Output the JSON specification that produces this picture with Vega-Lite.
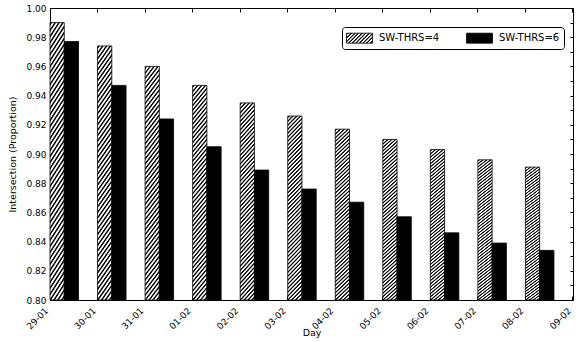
{
  "$schema": "https://vega.github.io/schema/vega-lite/v6.json",
  "width": 523,
  "height": 292,
  "autosize": {"type": "none"},
  "padding": {"left": 50, "top": 8, "right": 7, "bottom": 42},
  "background": "#ffffff",
  "config": {
    "view": {"stroke": "#000000", "strokeWidth": 1},
    "axis": {
      "domain": false, "grid": false, "tickColor": "#000000", "tickWidth": 1,
      "labelColor": "#000000", "titleColor": "#000000",
      "labelFont": "DejaVu Sans", "titleFont": "DejaVu Sans",
      "labelFontSize": 9, "titleFontSize": 9.5, "titleFontWeight": "normal"
    }
  },
  "data": {
    "values": [
      {"day": "29-01", "series": "SW-THRS=4", "value": 0.990},
      {"day": "30-01", "series": "SW-THRS=4", "value": 0.974},
      {"day": "31-01", "series": "SW-THRS=4", "value": 0.960},
      {"day": "01-02", "series": "SW-THRS=4", "value": 0.947},
      {"day": "02-02", "series": "SW-THRS=4", "value": 0.935},
      {"day": "03-02", "series": "SW-THRS=4", "value": 0.926},
      {"day": "04-02", "series": "SW-THRS=4", "value": 0.917},
      {"day": "05-02", "series": "SW-THRS=4", "value": 0.910},
      {"day": "06-02", "series": "SW-THRS=4", "value": 0.903},
      {"day": "07-02", "series": "SW-THRS=4", "value": 0.896},
      {"day": "08-02", "series": "SW-THRS=4", "value": 0.891},
      {"day": "29-01", "series": "SW-THRS=6", "value": 0.977},
      {"day": "30-01", "series": "SW-THRS=6", "value": 0.947},
      {"day": "31-01", "series": "SW-THRS=6", "value": 0.924},
      {"day": "01-02", "series": "SW-THRS=6", "value": 0.905},
      {"day": "02-02", "series": "SW-THRS=6", "value": 0.889},
      {"day": "03-02", "series": "SW-THRS=6", "value": 0.876},
      {"day": "04-02", "series": "SW-THRS=6", "value": 0.867},
      {"day": "05-02", "series": "SW-THRS=6", "value": 0.857},
      {"day": "06-02", "series": "SW-THRS=6", "value": 0.846},
      {"day": "07-02", "series": "SW-THRS=6", "value": 0.839},
      {"day": "08-02", "series": "SW-THRS=6", "value": 0.834}
    ]
  },
  "layer": [
    {
      "transform": [{"filter": "datum.series === 'SW-THRS=4'"}],
      "mark": {
        "type": "bar", "stroke": "#000000", "strokeWidth": 0.8,
        "fill": {"gradient": "linear", "x1": 0, "y1": 0, "x2": 0.08585, "y2": 1.0731, "stops": [
          {"offset":0,"color":"#fff"},{"offset":0.005,"color":"#000"},{"offset":0.009,"color":"#000"},{"offset":0.014,"color":"#fff"},
          {"offset":0.02,"color":"#fff"},{"offset":0.025,"color":"#000"},{"offset":0.029,"color":"#000"},{"offset":0.034,"color":"#fff"},
          {"offset":0.04,"color":"#fff"},{"offset":0.045,"color":"#000"},{"offset":0.049,"color":"#000"},{"offset":0.054,"color":"#fff"},
          {"offset":0.06,"color":"#fff"},{"offset":0.065,"color":"#000"},{"offset":0.069,"color":"#000"},{"offset":0.074,"color":"#fff"},
          {"offset":0.08,"color":"#fff"},{"offset":0.085,"color":"#000"},{"offset":0.089,"color":"#000"},{"offset":0.094,"color":"#fff"},
          {"offset":0.1,"color":"#fff"},{"offset":0.105,"color":"#000"},{"offset":0.109,"color":"#000"},{"offset":0.114,"color":"#fff"},
          {"offset":0.12,"color":"#fff"},{"offset":0.125,"color":"#000"},{"offset":0.129,"color":"#000"},{"offset":0.134,"color":"#fff"},
          {"offset":0.14,"color":"#fff"},{"offset":0.145,"color":"#000"},{"offset":0.149,"color":"#000"},{"offset":0.154,"color":"#fff"},
          {"offset":0.16,"color":"#fff"},{"offset":0.165,"color":"#000"},{"offset":0.169,"color":"#000"},{"offset":0.174,"color":"#fff"},
          {"offset":0.18,"color":"#fff"},{"offset":0.185,"color":"#000"},{"offset":0.189,"color":"#000"},{"offset":0.194,"color":"#fff"},
          {"offset":0.2,"color":"#fff"},{"offset":0.205,"color":"#000"},{"offset":0.209,"color":"#000"},{"offset":0.214,"color":"#fff"},
          {"offset":0.22,"color":"#fff"},{"offset":0.225,"color":"#000"},{"offset":0.229,"color":"#000"},{"offset":0.234,"color":"#fff"},
          {"offset":0.24,"color":"#fff"},{"offset":0.245,"color":"#000"},{"offset":0.249,"color":"#000"},{"offset":0.254,"color":"#fff"},
          {"offset":0.26,"color":"#fff"},{"offset":0.265,"color":"#000"},{"offset":0.269,"color":"#000"},{"offset":0.274,"color":"#fff"},
          {"offset":0.28,"color":"#fff"},{"offset":0.285,"color":"#000"},{"offset":0.289,"color":"#000"},{"offset":0.294,"color":"#fff"},
          {"offset":0.3,"color":"#fff"},{"offset":0.305,"color":"#000"},{"offset":0.309,"color":"#000"},{"offset":0.314,"color":"#fff"},
          {"offset":0.32,"color":"#fff"},{"offset":0.325,"color":"#000"},{"offset":0.329,"color":"#000"},{"offset":0.334,"color":"#fff"},
          {"offset":0.34,"color":"#fff"},{"offset":0.345,"color":"#000"},{"offset":0.349,"color":"#000"},{"offset":0.354,"color":"#fff"},
          {"offset":0.36,"color":"#fff"},{"offset":0.365,"color":"#000"},{"offset":0.369,"color":"#000"},{"offset":0.374,"color":"#fff"},
          {"offset":0.38,"color":"#fff"},{"offset":0.385,"color":"#000"},{"offset":0.389,"color":"#000"},{"offset":0.394,"color":"#fff"},
          {"offset":0.4,"color":"#fff"},{"offset":0.405,"color":"#000"},{"offset":0.409,"color":"#000"},{"offset":0.414,"color":"#fff"},
          {"offset":0.42,"color":"#fff"},{"offset":0.425,"color":"#000"},{"offset":0.429,"color":"#000"},{"offset":0.434,"color":"#fff"},
          {"offset":0.44,"color":"#fff"},{"offset":0.445,"color":"#000"},{"offset":0.449,"color":"#000"},{"offset":0.454,"color":"#fff"},
          {"offset":0.46,"color":"#fff"},{"offset":0.465,"color":"#000"},{"offset":0.469,"color":"#000"},{"offset":0.474,"color":"#fff"},
          {"offset":0.48,"color":"#fff"},{"offset":0.485,"color":"#000"},{"offset":0.489,"color":"#000"},{"offset":0.494,"color":"#fff"},
          {"offset":0.5,"color":"#fff"},{"offset":0.505,"color":"#000"},{"offset":0.509,"color":"#000"},{"offset":0.514,"color":"#fff"},
          {"offset":0.52,"color":"#fff"},{"offset":0.525,"color":"#000"},{"offset":0.529,"color":"#000"},{"offset":0.534,"color":"#fff"},
          {"offset":0.54,"color":"#fff"},{"offset":0.545,"color":"#000"},{"offset":0.549,"color":"#000"},{"offset":0.554,"color":"#fff"},
          {"offset":0.56,"color":"#fff"},{"offset":0.565,"color":"#000"},{"offset":0.569,"color":"#000"},{"offset":0.574,"color":"#fff"},
          {"offset":0.58,"color":"#fff"},{"offset":0.585,"color":"#000"},{"offset":0.589,"color":"#000"},{"offset":0.594,"color":"#fff"},
          {"offset":0.6,"color":"#fff"},{"offset":0.605,"color":"#000"},{"offset":0.609,"color":"#000"},{"offset":0.614,"color":"#fff"},
          {"offset":0.62,"color":"#fff"},{"offset":0.625,"color":"#000"},{"offset":0.629,"color":"#000"},{"offset":0.634,"color":"#fff"},
          {"offset":0.64,"color":"#fff"},{"offset":0.645,"color":"#000"},{"offset":0.649,"color":"#000"},{"offset":0.654,"color":"#fff"},
          {"offset":0.66,"color":"#fff"},{"offset":0.665,"color":"#000"},{"offset":0.669,"color":"#000"},{"offset":0.674,"color":"#fff"},
          {"offset":0.68,"color":"#fff"},{"offset":0.685,"color":"#000"},{"offset":0.689,"color":"#000"},{"offset":0.694,"color":"#fff"},
          {"offset":0.7,"color":"#fff"},{"offset":0.705,"color":"#000"},{"offset":0.709,"color":"#000"},{"offset":0.714,"color":"#fff"},
          {"offset":0.72,"color":"#fff"},{"offset":0.725,"color":"#000"},{"offset":0.729,"color":"#000"},{"offset":0.734,"color":"#fff"},
          {"offset":0.74,"color":"#fff"},{"offset":0.745,"color":"#000"},{"offset":0.749,"color":"#000"},{"offset":0.754,"color":"#fff"},
          {"offset":0.76,"color":"#fff"},{"offset":0.765,"color":"#000"},{"offset":0.769,"color":"#000"},{"offset":0.774,"color":"#fff"},
          {"offset":0.78,"color":"#fff"},{"offset":0.785,"color":"#000"},{"offset":0.789,"color":"#000"},{"offset":0.794,"color":"#fff"},
          {"offset":0.8,"color":"#fff"},{"offset":0.805,"color":"#000"},{"offset":0.809,"color":"#000"},{"offset":0.814,"color":"#fff"},
          {"offset":0.82,"color":"#fff"},{"offset":0.825,"color":"#000"},{"offset":0.829,"color":"#000"},{"offset":0.834,"color":"#fff"},
          {"offset":0.84,"color":"#fff"},{"offset":0.845,"color":"#000"},{"offset":0.849,"color":"#000"},{"offset":0.854,"color":"#fff"},
          {"offset":0.86,"color":"#fff"},{"offset":0.865,"color":"#000"},{"offset":0.869,"color":"#000"},{"offset":0.874,"color":"#fff"},
          {"offset":0.88,"color":"#fff"},{"offset":0.885,"color":"#000"},{"offset":0.889,"color":"#000"},{"offset":0.894,"color":"#fff"},
          {"offset":0.9,"color":"#fff"},{"offset":0.905,"color":"#000"},{"offset":0.909,"color":"#000"},{"offset":0.914,"color":"#fff"},
          {"offset":0.92,"color":"#fff"},{"offset":0.925,"color":"#000"},{"offset":0.929,"color":"#000"},{"offset":0.934,"color":"#fff"},
          {"offset":0.94,"color":"#fff"},{"offset":0.945,"color":"#000"},{"offset":0.949,"color":"#000"},{"offset":0.954,"color":"#fff"},
          {"offset":0.96,"color":"#fff"},{"offset":0.965,"color":"#000"},{"offset":0.969,"color":"#000"},{"offset":0.974,"color":"#fff"},
          {"offset":0.98,"color":"#fff"},{"offset":0.985,"color":"#000"},{"offset":0.989,"color":"#000"},{"offset":0.994,"color":"#fff"}
        ]}
      },
      "encoding": {
        "x": {
          "field": "day", "type": "nominal",
          "scale": {"type": "band", "domain": ["29-01","30-01","31-01","01-02","02-02","03-02","04-02","05-02","06-02","07-02","08-02","09-02"], "range": [0, 570.5], "paddingInner": 0, "paddingOuter": 0},
          "axis": {
            "orient": "bottom", "title": "Day", "bandPosition": 0,
            "labelAngle": -45, "labelAlign": "right", "labelBaseline": "top",
            "labelOffset": -29.8, "labelPadding": 10, "tickSize": -4,
            "labelOverlap": false, "labelBound": false, "labelFlush": false,
            "titleX": 261.5, "titleY": 32, "titleBaseline": "middle"
          }
        },
        "xOffset": {
          "field": "series", "type": "nominal",
          "scale": {"domain": ["SW-THRS=4", "SW-THRS=6"], "paddingInner": 0, "paddingOuter": 0.6667, "align": 0}
        },
        "y": {
          "field": "value", "type": "quantitative",
          "scale": {"domain": [0.8, 1.0], "zero": false, "nice": false},
          "axis": {
            "orient": "left", "title": "Intersection (Proportion)",
            "values": [0.8, 0.82, 0.84, 0.86, 0.88, 0.9, 0.92, 0.94, 0.96, 0.98, 1.0],
            "format": ".2f", "tickSize": -4, "labelPadding": 8,
            "titleX": -38, "titleY": 146, "titleBaseline": "middle"
          }
        },
        "y2": {"datum": 0.8}
      }
    },
    {
      "transform": [{"filter": "datum.series === 'SW-THRS=6'"}],
      "mark": {"type": "bar", "strokeWidth": 0.8},
      "encoding": {
        "x": {
          "field": "day", "type": "nominal",
          "axis": {"orient": "top", "title": null, "labels": false, "bandPosition": 0, "tickSize": -4}
        },
        "xOffset": {"field": "series", "type": "nominal"},
        "y": {
          "field": "value", "type": "quantitative",
          "axis": {
            "orient": "right", "title": null, "labels": false, "tickSize": -3,
            "values": [0.8, 0.81, 0.82, 0.83, 0.84, 0.85, 0.86, 0.87, 0.88, 0.89, 0.9, 0.91, 0.92, 0.93, 0.94, 0.95, 0.96, 0.97, 0.98, 0.99, 1.0]
          }
        },
        "y2": {"datum": 0.8},
        "fill": {
          "field": "day", "type": "nominal",
          "scale": {"range": ["#000000"]},
          "legend": null
        },
        "stroke": {
          "field": "series", "type": "nominal",
          "scale": {"domain": ["SW-THRS=4", "SW-THRS=6"], "range": ["#000000", "#000000"]},
          "legend": {
            "orient": "none", "legendX": 292, "legendY": 19, "direction": "horizontal",
            "title": null, "symbolType": "M-2,-0.77H2V0.77H-2Z", "symbolSize": 169, "symbolOffset": 6.5,
            "symbolStrokeWidth": 0.8,
            "symbolFillColor": [
              {"test": "datum.value === 'SW-THRS=4'", "value": {"gradient": "linear", "x1": 0, "y1": 0, "x2": 1.206, "y2": 0.464, "stops": [
                {"offset":0,"color":"#fff"},{"offset":0.025,"color":"#000"},{"offset":0.045,"color":"#000"},{"offset":0.07,"color":"#fff"},
                {"offset":0.1,"color":"#fff"},{"offset":0.125,"color":"#000"},{"offset":0.145,"color":"#000"},{"offset":0.17,"color":"#fff"},
                {"offset":0.2,"color":"#fff"},{"offset":0.225,"color":"#000"},{"offset":0.245,"color":"#000"},{"offset":0.27,"color":"#fff"},
                {"offset":0.3,"color":"#fff"},{"offset":0.325,"color":"#000"},{"offset":0.345,"color":"#000"},{"offset":0.37,"color":"#fff"},
                {"offset":0.4,"color":"#fff"},{"offset":0.425,"color":"#000"},{"offset":0.445,"color":"#000"},{"offset":0.47,"color":"#fff"},
                {"offset":0.5,"color":"#fff"},{"offset":0.525,"color":"#000"},{"offset":0.545,"color":"#000"},{"offset":0.57,"color":"#fff"},
                {"offset":0.6,"color":"#fff"},{"offset":0.625,"color":"#000"},{"offset":0.645,"color":"#000"},{"offset":0.67,"color":"#fff"},
                {"offset":0.7,"color":"#fff"},{"offset":0.725,"color":"#000"},{"offset":0.745,"color":"#000"},{"offset":0.77,"color":"#fff"},
                {"offset":0.8,"color":"#fff"},{"offset":0.825,"color":"#000"},{"offset":0.845,"color":"#000"},{"offset":0.87,"color":"#fff"},
                {"offset":0.9,"color":"#fff"},{"offset":0.925,"color":"#000"},{"offset":0.945,"color":"#000"},{"offset":0.97,"color":"#fff"}
              ]}},
              {"value": "#000000"}
            ],
            "labelOffset": 12.5, "labelFontSize": 10, "labelFont": "DejaVu Sans", "labelColor": "#000000",
            "columnPadding": 24, "padding": 4, "strokeColor": "#000000", "fillColor": "#ffffff", "cornerRadius": 3
          }
        }
      }
    }
  ]
}
